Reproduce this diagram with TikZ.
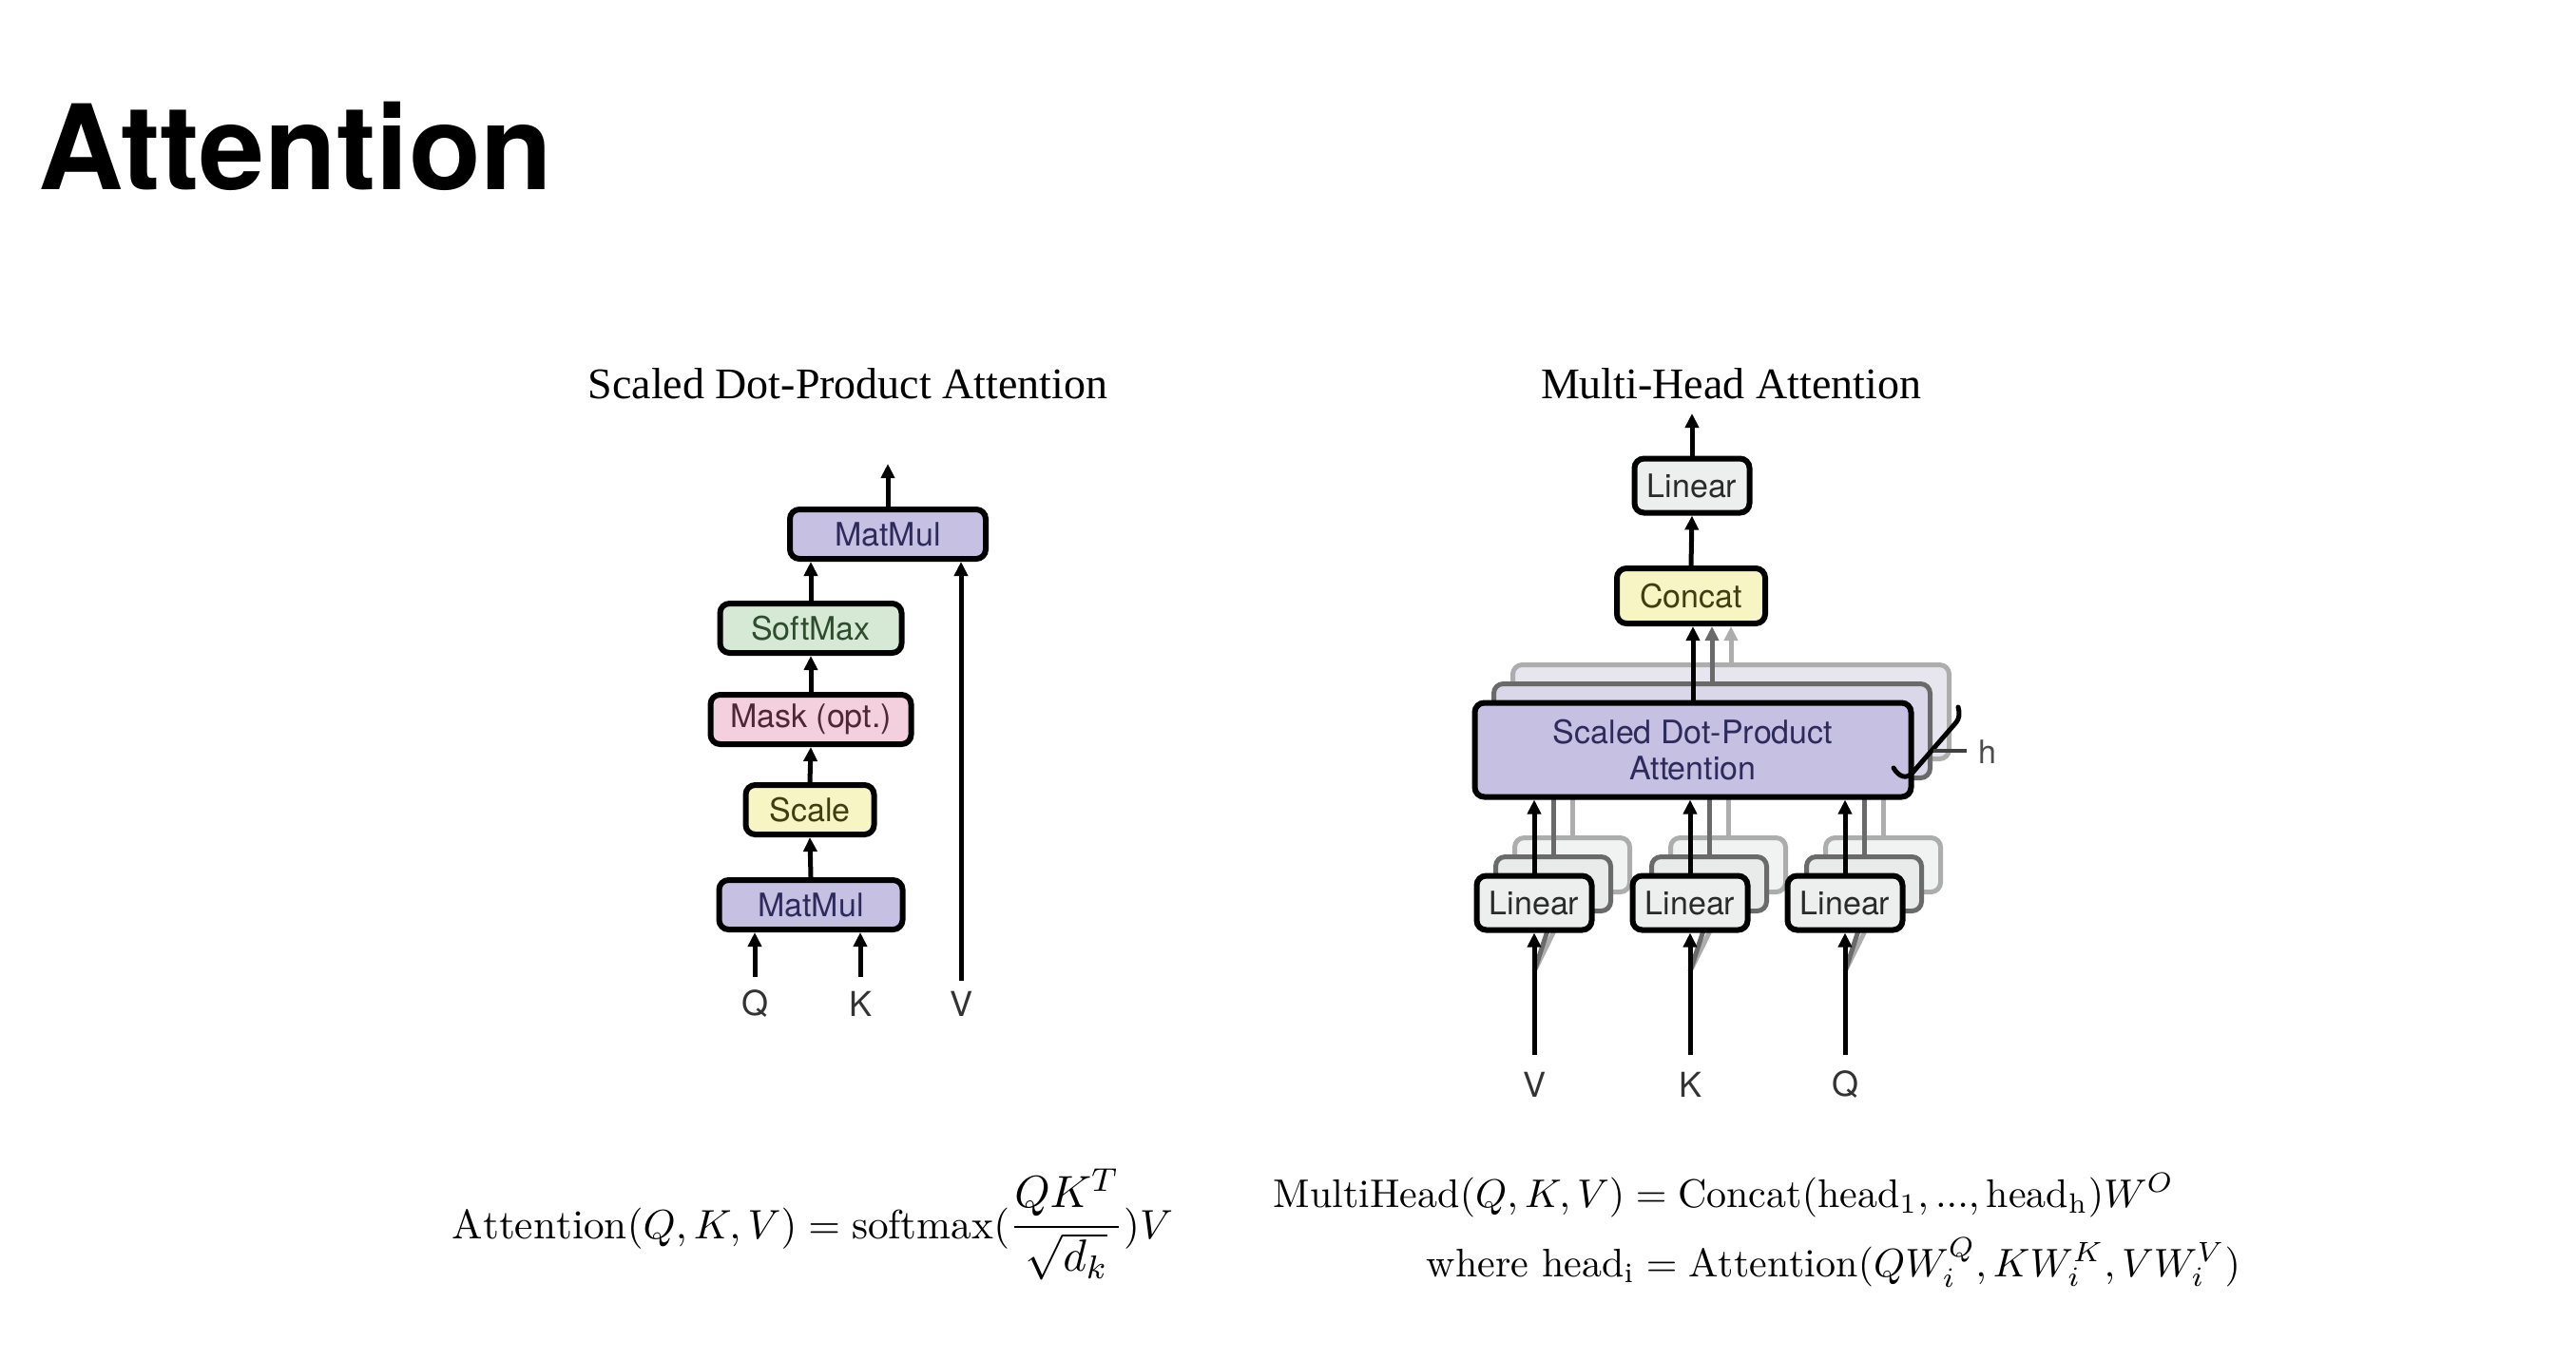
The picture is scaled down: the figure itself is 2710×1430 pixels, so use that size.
\documentclass[tikz,border=0pt]{standalone}
\usepackage{fontspec}
\usetikzlibrary{arrows.meta}
\newfontfamily\headfont{Liberation Serif}
\newfontfamily\boxfont{TeX Gyre Heros}
\newfontfamily\titlefont{TeX Gyre Heros}
\definecolor{mmfill}{HTML}{C6C1E2}
\definecolor{mmtext}{HTML}{2F2A5C}
\definecolor{softfill}{HTML}{D6E9D5}
\definecolor{softtext}{HTML}{2E4D2E}
\definecolor{maskfill}{HTML}{F4CFDD}
\definecolor{masktext}{HTML}{4D2638}
\definecolor{scalefill}{HTML}{F7F5C3}
\definecolor{scaletext}{HTML}{3F3D12}
\definecolor{linfill}{HTML}{EDEFEE}
\definecolor{lintext}{HTML}{2A2A2A}
\definecolor{ltwodraw}{HTML}{6A6A6A}
\definecolor{lthreedraw}{HTML}{ADADAD}
\definecolor{ltwofill}{HTML}{D9D7E8}
\definecolor{lthreefill}{HTML}{E7E6EE}
\definecolor{ltwolin}{HTML}{E9EAEA}
\definecolor{lthreelin}{HTML}{F1F2F2}
\begin{document}
\begin{tikzpicture}[x=0.5pt,y=-0.5pt,
  blk/.style={draw=black, line width=3pt, rounded corners=5pt, inner sep=0pt,
    font=\boxfont\fontsize{17}{20}\selectfont},
  lbox/.style={blk, minimum width=60.5pt, minimum height=28.5pt, fill=linfill, text=lintext},
  arr/.style={line width=2.5pt, -{Triangle[length=7.5pt,width=7pt]}},
  lbl/.style={font=\boxfont\fontsize{18}{20}\selectfont, text=black!80, inner sep=0pt},
  head/.style={font=\headfont\fontsize{23}{26}\selectfont, anchor=base, inner sep=0pt},
  frm/.style={font=\fontsize{10}{12}\selectfont, scale=2.1, anchor=base west, inner sep=0pt},
  ltwo/.style={draw=ltwodraw, line width=2.5pt},
  lthree/.style={draw=lthreedraw, line width=2.5pt}]
\useasboundingbox[fill=white] (0,0) rectangle (2710,1430);

% title and headings
\node[anchor=base west, inner sep=0pt, font=\titlefont\bfseries\fontsize{62}{70}\selectfont] (title) at (40,199) {Attention};
\node[head] (h1) at (892,419) {Scaled Dot-Product Attention};
\node[head] (h2) at (1821,419) {Multi-Head Attention};

% ---------------- left: scaled dot-product attention
\node[blk, fill=mmfill, text=mmtext, minimum width=103pt, minimum height=26pt] (mmtop) at (934,562) {MatMul};
\node[blk, fill=softfill, text=softtext, minimum width=95.5pt, minimum height=26pt] (soft) at (853,661) {SoftMax};
\node[blk, fill=maskfill, text=masktext, minimum width=105.5pt, minimum height=26pt] (mask) at (853,757) {Mask (opt.)};
\node[blk, fill=scalefill, text=scaletext, minimum width=67.5pt, minimum height=26pt] (scale) at (852,852) {Scale};
\node[blk, fill=mmfill, text=mmtext, minimum width=96.5pt, minimum height=26pt] (mmbot) at (853,952) {MatMul};

\coordinate (outL) at (934,488);
\draw[arr] (mmtop.north) -- (outL);
\draw[arr] (soft.north) -- (soft.north |- mmtop.south);
\draw[arr] (mask.north) -- (soft.south);
\draw[arr] (scale.north) -- (mask.south);
\draw[arr] (mmbot.north) -- (scale.south);

\coordinate (qL) at (794,1028);
\coordinate (kL) at (905,1028);
\coordinate (vL) at (1011,1032);
\draw[arr] (qL) -- (qL |- mmbot.south);
\draw[arr] (kL) -- (kL |- mmbot.south);
\draw[arr] (vL) -- (vL |- mmtop.south);
\node[lbl] (qLl) at (794,1056) {Q};
\node[lbl] (kLl) at (905,1056) {K};
\node[lbl] (vLl) at (1011,1056) {V};

% ---------------- right: multi-head attention
% third layer
\node[blk, lthree, fill=lthreefill, minimum width=229.5pt, minimum height=49.5pt] (sdpa3) at (1821,749) {};
\foreach \n/\x in {1/1614,2/1778,3/1941}{
  \node[blk, lthree, fill=lthreelin, minimum width=60.5pt, minimum height=28.5pt] (lin\n c) at (\x+40,910) {};
  \draw[lthree] (lin\n c.north) -- (lin\n c.north |- sdpa3.south);
  \coordinate (gh\n) at (\x,1022);
  \draw[lthree] (gh\n) -- (lin\n c.south);
}
% second layer
\node[blk, ltwo, fill=ltwofill, minimum width=229.5pt, minimum height=49.5pt] (sdpa2) at (1801,769) {};
\foreach \n/\x in {1/1614,2/1778,3/1941}{
  \node[blk, ltwo, fill=ltwolin, minimum width=60.5pt, minimum height=28.5pt] (lin\n b) at (\x+20,930) {};
  \draw[ltwo] (lin\n b.north) -- (lin\n b.north |- sdpa2.south);
  \draw[ltwo] (gh\n) -- (lin\n b.south);
}
% front layer
\node[blk, fill=mmfill, text=mmtext, minimum width=229.5pt, minimum height=49.5pt, align=center] (sdpa) at (1781,789) {Scaled Dot-Product\\[-1pt]Attention};
\node[blk, fill=scalefill, text=scaletext, minimum width=78pt, minimum height=29pt] (concat) at (1779,627) {Concat};
\node[lbox] (lintop) at (1780,511) {Linear};
\draw[arr, draw=ltwodraw] (sdpa2.north) -- (sdpa2.north |- concat.south);
\draw[arr, draw=lthreedraw] (sdpa3.north) -- (sdpa3.north |- concat.south);
\draw[arr] (sdpa.north) -- (sdpa.north |- concat.south);
\draw[arr] (concat.north) -- (lintop.south);
\coordinate (outR) at (1780,435);
\draw[arr] (lintop.north) -- (outR);

\foreach \n/\x/\t in {1/1614/V,2/1778/K,3/1941/Q}{
  \node[lbox] (lin\n a) at (\x,950) {Linear};
  \draw[arr] (lin\n a.north) -- (lin\n a.north |- sdpa.south);
  \coordinate (in\n) at (\x,1110);
  \draw[arr] (in\n) -- (lin\n a.south);
  \node[lbl] (lab\n) at (\x,1141) {\t};
}

% h bracket
\coordinate (brA) at (1992,808);
\coordinate (brB) at (2058,760);
\coordinate (brM) at (2034,790);
\coordinate (brT) at (2069,790);
\draw[line width=2.5pt, line cap=round] (brA) .. controls (1998,818) and (2006,820) .. (2012,813) -- (brB) .. controls (2061,756) and (2062,751) .. (2060,744);
\draw[line width=2pt, draw=black!75] (brM) -- (brT);
\node[lbl, anchor=west, text=black!70, font=\boxfont\fontsize{17}{20}\selectfont] (hlab) at (2081,791) {h};

% ---------------- formulas
\node[frm, scale=1.03] (f1) at (475,1303) {$\displaystyle \mathrm{Attention}(Q,K,V)=\mathrm{softmax}(\mbox{\fontsize{11}{13}\selectfont$\displaystyle\frac{QK^T}{\sqrt{d_k}}$})V$};
\node[frm] (f2) at (1339,1270) {$\mathrm{MultiHead}(Q,K,V)=\mathrm{Concat}(\mathrm{head}_1,...,\mathrm{head}_{\mathrm{h}})W^O$};
\node[frm] (f3) at (1500,1343) {where $\mathrm{head}_{\mathrm{i}}=\mathrm{Attention}(QW_i^Q,KW_i^K,VW_i^V)$};
\end{tikzpicture}
\end{document}
